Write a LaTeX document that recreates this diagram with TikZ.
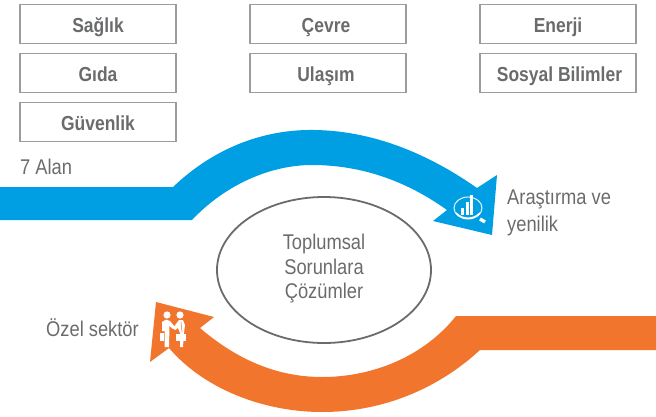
\documentclass[tikz,border=0pt]{standalone}
\usepackage{fontspec}
\setmainfont[FakeStretch=0.86]{Liberation Sans}
\definecolor{arrowblue}{HTML}{009FE3}
\definecolor{arroworange}{HTML}{F1752C}
\definecolor{boxgray}{HTML}{9C9C9C}
\definecolor{textgray}{HTML}{6A6B6D}
\tikzset{
  fieldbox/.style={draw=boxgray, line width=1.1pt, minimum width=156pt, minimum height=39pt, inner sep=0pt, text=textgray, text height=16pt, text depth=0pt, font=\fontsize{20.3}{22}\selectfont\bfseries},
  plainlabel/.style={text=textgray, font=\fontsize{21.3}{24.5}\selectfont, inner sep=0pt, align=center},
}
\begin{document}
\begin{tikzpicture}[x=1pt,y=-1pt]
\useasboundingbox (0,0) rectangle (656,416);

% field boxes
  \node[fieldbox] (saglik) at (98,24) {Sağlık};
  \node[fieldbox] (gida) at (98,73) {Gıda};
  \node[fieldbox] (guvenlik) at (98,122) {Güvenlik};
  \node[fieldbox] (cevre) at (328,24) {\hspace*{-4pt}Çevre};
  \node[fieldbox] (ulasim) at (328,73) {\hspace*{-4pt}Ulaşım};
  \node[fieldbox] (enerji) at (558,24) {Enerji};
  \node[fieldbox] (sosyal) at (558,73) {\hspace*{3pt}Sosyal Bilimler};

% labels
  \node[plainlabel, anchor=west] (alan) at (20,167) {7 Alan};
  \node[plainlabel, anchor=west, align=left] (arastirma) at (507,213) {Araştırma ve\\[2.5pt]yenilik};
  \node[plainlabel, anchor=east] (ozel) at (139,328) {Özel sektör};

% blue arrow
  \fill[arrowblue] (0,187) -- (173,187) .. controls (215,147) and (265,129) .. (315,130)
    .. controls (375,131) and (430,155) .. (477,188) -- (497,175) -- (492,235) -- (433,221) -- (447,210)
    .. controls (405,180) and (360,165) .. (312,165) .. controls (270,165) and (225,185) .. (192,220) -- (0,220) -- cycle;

% orange arrow
  \fill[arroworange] (656,316) -- (456,316) .. controls (425,355) and (375,377) .. (322,377)
    .. controls (275,377) and (235,358) .. (200,328) -- (214,317) -- (156,302) -- (150,362) -- (169,348)
    .. controls (205,390) and (265,412) .. (322,412) .. controls (385,412) and (440,387) .. (480,350) -- (656,350) -- cycle;

% centre
  \draw[textgray, line width=1.8pt] (324,270) ellipse [x radius=107, y radius=73];
  \node[plainlabel] (cozum) at (324,269) {Toplumsal\\Sorunlara\\Çözümler};

% research icon
  \draw[white, line width=0.9pt] (468,208) ellipse [x radius=14, y radius=11];
  \draw[white, line width=1.6pt] (456,213) .. controls (462,220) and (474,220) .. (480,213);
  \draw[white, line width=3.4pt] (480,219) -- (485,222);
  \fill[white] (461,208) rectangle (464,215);
  \fill[white] (466,202) rectangle (469,215);
  \fill[white] (470,195) rectangle (473,215);

% handshake icon
  \fill[white] (167,315) circle (3.6);
  \fill[white] (180,315) circle (3.6);
  \fill[white] (162,322) -- (166,319.5) -- (170,321) -- (175,327) -- (173,329) -- (169.5,326) -- (169,347) -- (164.5,347) -- (164.5,331) -- (162,331) -- cycle;
  \fill[white] (173,328) -- (179,320) -- (183,320) -- (185,325) -- (184,333) -- (183,347) -- (180,347) -- (180,333) -- (178,328) -- (175,330) -- cycle;
  \draw[arroworange, line width=0.5pt] (181,322) -- (182,332);
  \fill[white] (160,333) rectangle (163.5,341);
  \fill[white] (176,334) rectangle (186,341);
\end{tikzpicture}
\end{document}
